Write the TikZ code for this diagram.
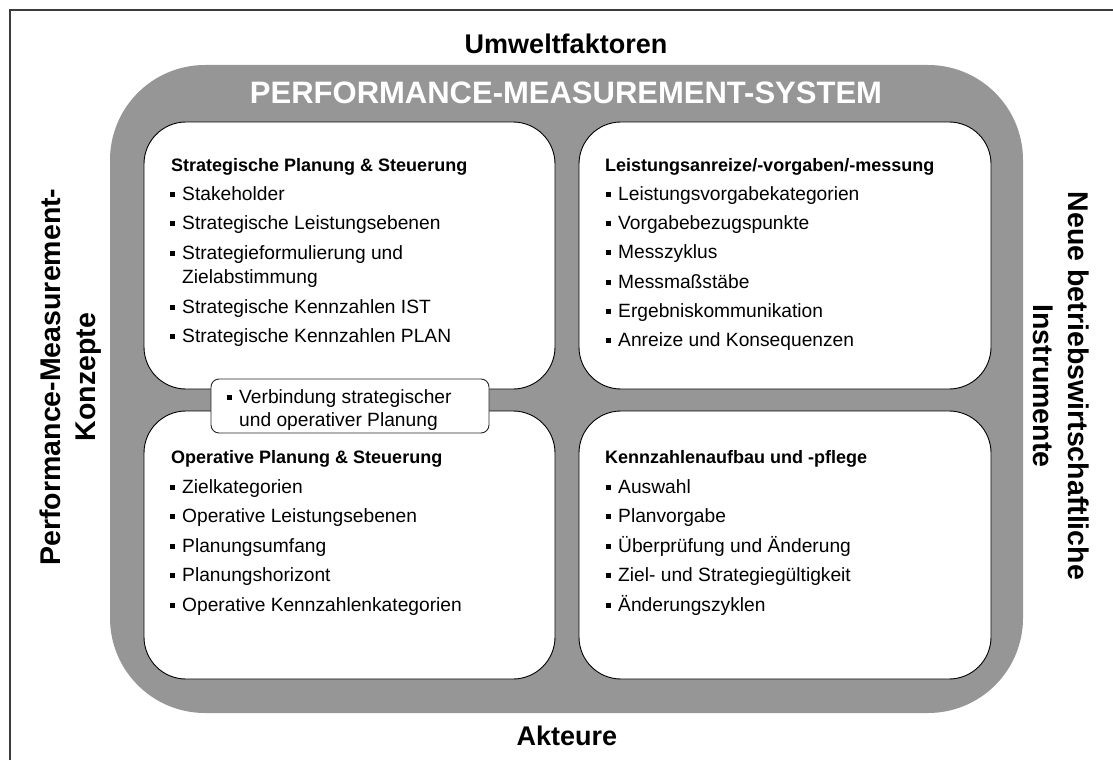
\documentclass[tikz,border=0pt]{standalone}
\usepackage{fontspec}
\setmainfont{Liberation Sans}
\newcommand\bul{\rule[3.5pt]{5pt}{5pt}\hspace{7pt}}
\definecolor{bandgray}{RGB}{150,150,150}
\definecolor{framegray}{RGB}{60,60,60}
\tikzset{
  band/.style={fill=bandgray, rounded corners=95pt},
  card/.style={draw=black, line width=0.9pt, fill=white, rounded corners=42pt, inner sep=0pt},
  linkbox/.style={draw=black!85, line width=0.9pt, fill=white, rounded corners=8pt, inner sep=0pt},
  hd/.style={anchor=base west, inner sep=0pt, font=\bfseries\fontsize{18}{22}\selectfont},
  it/.style={anchor=base west, inner sep=0pt, font=\fontsize{19.2}{23}\selectfont},
  outer/.style={inner sep=0pt, font=\bfseries\fontsize{27}{33}\selectfont},
  side/.style={inner sep=0pt, align=center, font=\bfseries\fontsize{28.5}{35}\selectfont},
}
\begin{document}
\begin{tikzpicture}[x=1pt,y=-1pt]
\useasboundingbox (0,0) rectangle (1113,760);
% frame (only top and left edges visible)
\draw[framegray, line width=1.5pt] (10,760) -- (10,10) -- (1113,10);
% gray band
\fill[band] (110,65) rectangle (1023,713);
% cards
\node[card, minimum width=411pt, minimum height=267pt] (tl) at (349.5,255.5) {};
\node[card, minimum width=412pt, minimum height=267pt] (tr) at (785,255.5) {};
\node[card, minimum width=411pt, minimum height=268pt] (bl) at (349.5,545) {};
\node[card, minimum width=412pt, minimum height=268pt] (br) at (785,545) {};
\node[linkbox, minimum width=278pt, minimum height=54pt] (mid) at (350,406) {};
% title and outer labels
\node[anchor=base, inner sep=0pt, text=white, font=\bfseries\fontsize{31}{36}\selectfont] (title) at (566,103) {PERFORMANCE-MEASUREMENT-SYSTEM};
\node[outer, anchor=base] (umw) at (566,53) {Umweltfaktoren};
\node[outer, anchor=base] (akt) at (567,745) {Akteure};
\node[side, rotate=90] (pmk) at (70.5,377) {Performance-Measurement-\\Konzepte};
\node[side, rotate=-90] (nbi) at (1061,386) {Neue betriebswirtschaftliche\\Instrumente};
% top-left card
\node[hd] (tlh) at (171,171) {Strategische Planung \& Steuerung};
\node[it] (tl1) at (170,200) {\bul Stakeholder};
\node[it] (tl2) at (170,229) {\bul Strategische Leistungsebenen};
\node[it] (tl3) at (170,259) {\bul Strategieformulierung und};
\node[it] (tl3b) at (182,283) {Zielabstimmung};
\node[it] (tl4) at (170,313) {\bul Strategische Kennzahlen IST};
\node[it] (tl5) at (170,342) {\bul Strategische Kennzahlen PLAN};
% top-right card
\node[hd] (trh) at (605,171) {Leistungsanreize/-vorgaben/-messung};
\node[it] (tr1) at (606,200) {\bul Leistungsvorgabekategorien};
\node[it] (tr2) at (606,229) {\bul Vorgabebezugspunkte};
\node[it] (tr3) at (606,258) {\bul Messzyklus};
\node[it] (tr4) at (606,288) {\bul Messmaßstäbe};
\node[it] (tr5) at (606,317) {\bul Ergebniskommunikation};
\node[it] (tr6) at (606,346) {\bul Anreize und Konsequenzen};
% bottom-left card
\node[hd] (blh) at (171,463) {Operative Planung \& Steuerung};
\node[it] (bl1) at (170,493) {\bul Zielkategorien};
\node[it] (bl2) at (170,522) {\bul Operative Leistungsebenen};
\node[it] (bl3) at (170,552) {\bul Planungsumfang};
\node[it] (bl4) at (170,581) {\bul Planungshorizont};
\node[it] (bl5) at (170,611) {\bul Operative Kennzahlenkategorien};
% bottom-right card
\node[hd] (brh) at (605,463) {Kennzahlenaufbau und -pflege};
\node[it] (br1) at (606,493) {\bul Auswahl};
\node[it] (br2) at (606,522) {\bul Planvorgabe};
\node[it] (br3) at (606,552) {\bul Überprüfung und Änderung};
\node[it] (br4) at (606,581) {\bul Ziel- und Strategiegültigkeit};
\node[it] (br5) at (606,611) {\bul Änderungszyklen};
% link box text
\node[it] (m1) at (227,403) {\bul Verbindung strategischer};
\node[it] (m2) at (239,426) {und operativer Planung};
\end{tikzpicture}
\end{document}
